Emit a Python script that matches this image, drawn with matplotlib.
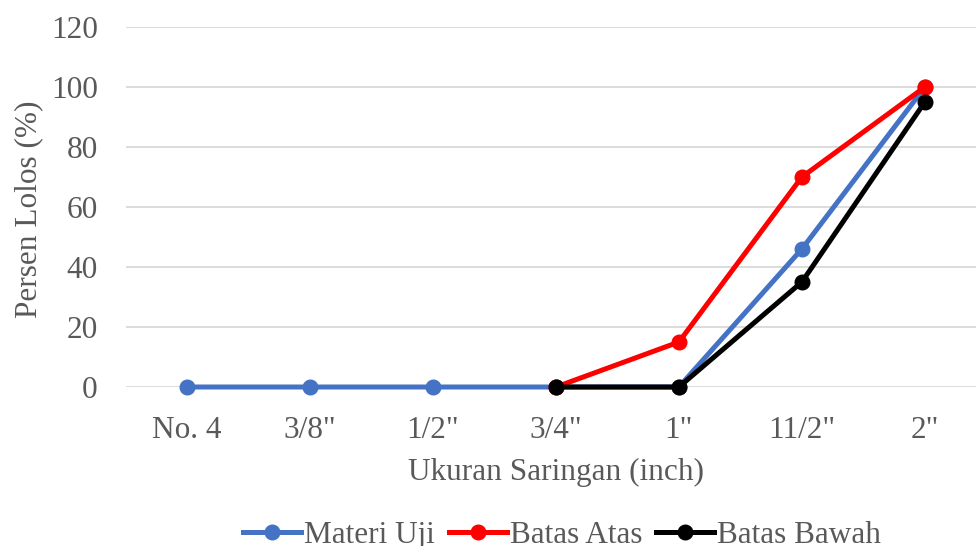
import numpy as np
import matplotlib.pyplot as plt

# Ukuran saringan dan persen lolos tiap seri
saringan = ['No. 4', '3/8"', '1/2"', '3/4"', '1"', '11/2"', '2"']
materi_uji = [0, 0, 0, 0, 0, 46, 100]
batas_atas = [np.nan, np.nan, np.nan, 0, 15, 70, 100]
batas_bawah = [np.nan, np.nan, np.nan, 0, 0, 35, 95]

plt.rcParams['font.family'] = ['Liberation Serif', 'DejaVu Serif']
abu = '#595959'
fs = 22.5

fig = plt.figure(figsize=(9.76, 5.46), dpi=100)
ax = fig.add_axes([0.1286, 0.2912, 0.882, 0.6593])

x = np.arange(len(saringan))
seri = [
    (materi_uji, '#4472C4', 'Materi Uji'),
    (batas_atas, '#FF0000', 'Batas Atas'),
    (batas_bawah, '#000000', 'Batas Bawah'),
]
for i, (nilai, warna, label) in enumerate(seri):
    ax.plot(x, nilai, '-o', color=warna, label=label, linewidth=3.6,
            markersize=10.5, zorder=3 + i, clip_on=False)

ax.set_xlim(-0.5, len(saringan) - 0.5)
ax.set_ylim(0, 120)
ax.set_yticks(range(0, 121, 20))
ax.set_xticks(x)
ax.set_xticklabels(saringan)
ax.grid(axis='y', color='#D9D9D9', linewidth=1.3)
ax.set_axisbelow(True)
for s in ax.spines.values():
    s.set_visible(False)
ax.tick_params(length=0, labelsize=fs, labelcolor=abu)
ax.tick_params(axis='y', pad=20)
ax.tick_params(axis='x', pad=21)

ax.set_xlabel('Ukuran Saringan (inch)', fontsize=fs, color=abu, labelpad=9)
fig.text(0.029, 0.617, 'Persen Lolos (%)', rotation=90, fontsize=fs,
         color=abu, ha='center', va='center')

fig.legend(loc='center', bbox_to_anchor=(0.576, 0.019), ncol=3,
           frameon=False, fontsize=fs, labelcolor=abu, handlelength=1.85,
           handletextpad=0.1, columnspacing=0.45, borderpad=0)

fig.savefig('out.png', dpi=100)
